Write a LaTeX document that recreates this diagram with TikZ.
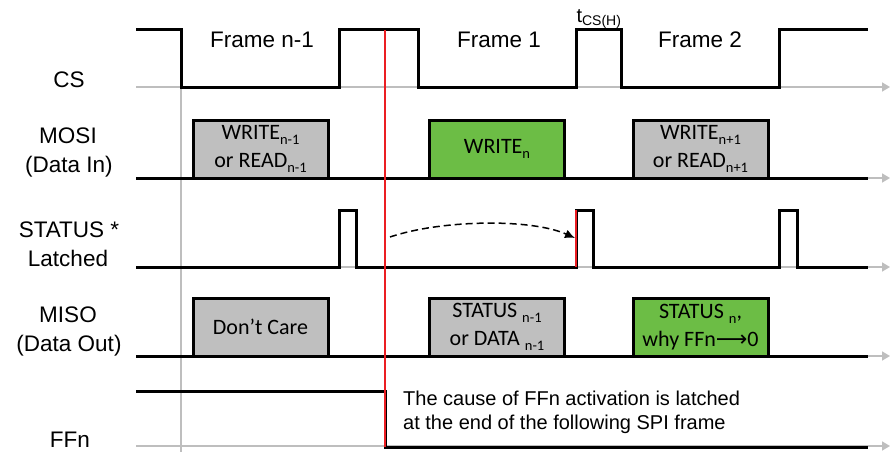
\documentclass[tikz,border=0pt]{standalone}
\usepackage{fontspec}
\setmainfont{Liberation Sans}
\newfontfamily\boxfont{Carlito}
\newfontfamily\arrowfont{DejaVu Sans}
\usetikzlibrary{arrows.meta}
\definecolor{axisgray}{RGB}{190,190,190}
\definecolor{boxgray}{RGB}{191,191,191}
\definecolor{boxgreen}{RGB}{108,189,69}
\definecolor{markred}{RGB}{235,30,35}
\newcommand\sbx[1]{\raisebox{-0.22em}{\fontsize{14.5}{15}\selectfont #1}}
\begin{document}
\begin{tikzpicture}[x=1pt,y=-1pt,
  axis/.style={draw=axisgray,line width=1.5pt,-{Triangle[length=8pt,width=9pt]}},
  wave/.style={draw=black,line width=3pt,miter limit=10},
  redmark/.style={draw=markred,line width=2.1pt},
  lbl/.style={anchor=base,inner sep=0pt,font=\fontsize{22.5}{26}\selectfont},
  framelbl/.style={anchor=base,inner sep=0pt,font=\fontsize{22.5}{26}\selectfont},
  databox/.style={draw=black,line width=3pt,minimum width=135pt,minimum height=58pt,
    inner sep=0pt,align=center,font=\boxfont\fontsize{22}{28}\selectfont},
  note/.style={anchor=north west,inner sep=0pt,align=left,font=\fontsize{20}{23.5}\selectfont}]
\useasboundingbox (0,0) rectangle (891,452);
\fill[white] (0,0) rectangle (891,452);
% axes
\foreach \yy in {87,178,267,356,446} \draw[axis] (136,\yy) -- (890,\yy);
\draw[draw=axisgray,line width=1.5pt] (181,87) -- (181,452);
% waveforms
\draw[wave] (136,30) -| (181,87) -| (339,30) -| (418,87) -| (576,30) -| (621,87) -| (779,30) -- (868,30);
\draw[wave] (136,178) -- (868,178);
\draw[wave] (136,267) -| (339,210) -| (356,267) -| (576,210) -| (593,267) -| (779,210) -| (797,267) -- (868,267);
\draw[wave] (136,356) -- (868,356);
\draw[wave] (136,391) -| (385,447) -- (868,447);
% boxes
\node[databox,fill=boxgray] (w1) at (260.5,149) {WRITE\sbx{n-1}\\or READ\sbx{n-1}};
\node[databox,fill=boxgreen] (w2) at (497,149) {WRITE\sbx{n}};
\node[databox,fill=boxgray] (w3) at (700.5,149) {WRITE\sbx{n+1}\\or READ\sbx{n+1}};
\node[databox,fill=boxgray] (m1) at (260.5,327) {Don’t Care};
\node[databox,fill=boxgray] (m2) at (497,327) {STATUS \sbx{n-1}\\or DATA \sbx{n-1}};
\node[databox,fill=boxgreen] (m3) at (700.5,327) {STATUS \sbx{n},\\why FFn{\arrowfont ⟶}0};
% red markers
\draw[redmark] (385,30) -- (385,447);
\draw[redmark] (576,210) -- (576,267);
% dashed arrow
\coordinate (ds) at (390,237);
\coordinate (de) at (575,238);
\draw[dash pattern=on 7pt off 4pt,line width=1.5pt,-{Latex[length=10pt,width=9pt]}] (ds) .. controls (440,220) and (530,218) .. (de);
% labels
\node[lbl] (lcs) at (69,87) {CS};
\node[lbl] (lmosi) at (68,143) {MOSI};
\node[lbl] (lmosi2) at (69,172) {(Data In)};
\node[lbl] (lst) at (69,237) {STATUS *};
\node[lbl] (lst2) at (68,266) {Latched};
\node[lbl] (lmiso) at (68,322) {MISO};
\node[lbl] (lmiso2) at (69,351) {(Data Out)};
\node[lbl] (lffn) at (70,447) {FFn};
\node[framelbl] (f0) at (262,48) {Frame n-1};
\node[framelbl] (f1) at (499,48) {Frame 1};
\node[framelbl] (f2) at (700,48) {Frame 2};
\node[anchor=base,inner sep=0pt,font=\fontsize{20}{24}\selectfont] (tcs) at (599,22.5) {t\textsubscript{CS(H)}};
\node[note] (nt) at (403,391) {The cause of FFn activation is latched\\at the end of the following SPI frame};
\end{tikzpicture}
\end{document}
